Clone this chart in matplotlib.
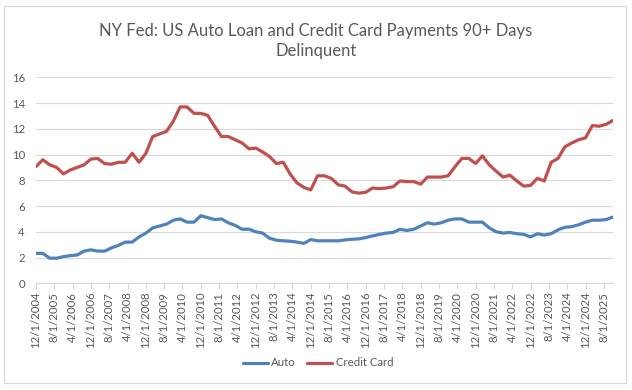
import matplotlib
matplotlib.use("Agg")
import matplotlib.pyplot as plt
from matplotlib.patches import Rectangle
import pandas as pd

# Quarterly series, first observation 12/1/2004
start_date = "2004-12-01"
auto = [
    2.33, 2.33, 1.95, 1.95, 2.07, 2.15, 2.2, 2.5, 2.6, 2.5,
    2.5, 2.75, 2.95, 3.2, 3.2, 3.6, 3.9, 4.3, 4.45, 4.6,
    4.9, 5.0, 4.75, 4.75, 5.25, 5.1, 4.95, 5.0, 4.7, 4.5,
    4.2, 4.2, 4.0, 3.9, 3.5, 3.35, 3.3, 3.27, 3.2, 3.1,
    3.4, 3.3, 3.3, 3.3, 3.3, 3.37, 3.42, 3.45, 3.55, 3.68,
    3.8, 3.9, 3.95, 4.2, 4.1, 4.2, 4.45, 4.7, 4.6, 4.7,
    4.9, 5.0, 5.0, 4.75, 4.75, 4.75, 4.3, 4.0, 3.9, 3.95,
    3.85, 3.8, 3.6, 3.85, 3.75, 3.85, 4.15, 4.35, 4.4, 4.55,
    4.75, 4.9, 4.9, 4.95, 5.15,
]
credit_card = [
    9.07, 9.6, 9.2, 9.0, 8.5, 8.8, 9.0, 9.2, 9.65, 9.7,
    9.3, 9.25, 9.4, 9.4, 10.1, 9.4, 10.1, 11.4, 11.6, 11.8,
    12.6, 13.7, 13.7, 13.2, 13.2, 13.05, 12.2, 11.4, 11.4, 11.15,
    10.9, 10.45, 10.5, 10.2, 9.85, 9.3, 9.4, 8.5, 7.8, 7.45,
    7.25, 8.35, 8.35, 8.15, 7.65, 7.55, 7.1, 7.0, 7.07, 7.4,
    7.35, 7.4, 7.5, 7.95, 7.9, 7.9, 7.7, 8.25, 8.25, 8.25,
    8.35, 9.05, 9.7, 9.7, 9.3, 9.9, 9.2, 8.7, 8.25, 8.4,
    7.95, 7.55, 7.6, 8.15, 7.95, 9.4, 9.7, 10.6, 10.9, 11.15,
    11.3, 12.25, 12.2, 12.35, 12.65,
]
title = "NY Fed: US Auto Loan and Credit Card Payments 90+ Days\nDelinquent"
y_ticks = [0, 2, 4, 6, 8, 10, 12, 14, 16]

dates = pd.date_range(start_date, periods=len(auto), freq="3MS")
tick_dates = pd.date_range(start_date, "2025-08-01", freq="8MS")
tick_labels = [f"{d.month}/{d.day}/{d.year}" for d in tick_dates]

W, H = 632, 390
fig = plt.figure(figsize=(W / 100, H / 100), dpi=100)
fig.patch.set_facecolor("white")
plt.rcParams["font.family"] = ["Lato", "DejaVu Sans"]

# chart border
fig.patches.append(Rectangle((4 / W, 1 - 383 / H), 622 / W, 377 / H,
                             transform=fig.transFigure, fill=False,
                             edgecolor="#d9d9d9", linewidth=0.8))

ax = fig.add_axes([36 / W, 1 - 283.3 / H, 577 / W, 206 / H])
ax.plot(dates, auto, color="#4F81BD", lw=2.3, label="Auto", solid_capstyle="round")
ax.plot(dates, credit_card, color="#C0504D", lw=2.3, label="Credit Card", solid_capstyle="round")

ax.set_ylim(0, 16)
ax.set_yticks(y_ticks)
ax.set_xlim(dates[0], dates[-1])
ax.set_xticks(tick_dates)
ax.set_xticklabels(tick_labels, rotation=90)
ax.tick_params(axis="x", length=4, color="#d9d9d9", labelsize=8.2, labelcolor="#595959", pad=2)
ax.tick_params(axis="y", length=0, labelsize=8.2, labelcolor="#595959", pad=8)
ax.grid(axis="y", color="#d9d9d9", lw=0.8)
ax.set_axisbelow(True)
for s in ["top", "right", "left"]:
    ax.spines[s].set_visible(False)
ax.spines["bottom"].set_color("#d9d9d9")
ax.spines["bottom"].set_linewidth(0.8)

fig.text(0.5, 1 - 41 / H, title, ha="center", va="center", fontsize=12,
         color="#595959", linespacing=1.3)

fig.legend(loc="center", bbox_to_anchor=(318 / W, 1 - 363 / H), ncol=2, frameon=False,
           fontsize=8.2, labelcolor="#595959", handlelength=2.2, columnspacing=1.0,
           handletextpad=0.3)

fig.savefig("out.png", dpi=100)
